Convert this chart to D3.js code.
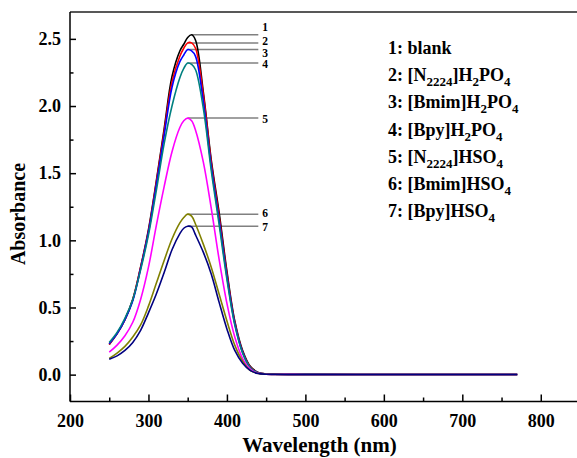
<!DOCTYPE html>
<html>
<head>
<meta charset="utf-8">
<script src="https://cdn.jsdelivr.net/npm/d3@7"></script>
<style>
  html, body { margin: 0; padding: 0; background: #fff; }
  svg { display: block; }
  text { font-family: "Liberation Serif", "Times New Roman", serif; font-weight: bold; fill: #000; }
</style>
</head>
<body>
<svg id="chart" width="577" height="458"></svg>
<script>
// UV-Vis absorbance spectra, sampled wavelengths (nm)
const wavelengths = [250, 260, 270, 280, 290, 300, 310, 320, 330, 340, 345, 350, 355, 360,
                     370, 380, 390, 400, 410, 420, 430, 440, 450, 460, 480, 500, 600, 700, 770];

// Absorbance of each sample at the wavelengths above
const absBlank      = [0.225, 0.305, 0.41, 0.56, 0.80, 1.08, 1.44, 1.83, 2.22, 2.41, 2.46, 2.51, 2.53, 2.49,
                       2.10, 1.60, 1.21, 0.77, 0.40, 0.18, 0.06, 0.016, 0.005, 0.003, 0.002, 0.002, 0.001, 0.001, 0.001];
const absN2224H2PO4 = [0.225, 0.305, 0.41, 0.56, 0.80, 1.07, 1.43, 1.81, 2.18, 2.37, 2.43, 2.47, 2.47, 2.43,
                       2.08, 1.58, 1.18, 0.75, 0.39, 0.17, 0.055, 0.014, 0.005, 0.003, 0.002, 0.002, 0.001, 0.001, 0.001];
const absBmimH2PO4  = [0.23, 0.305, 0.41, 0.55, 0.79, 1.06, 1.41, 1.78, 2.14, 2.33, 2.38, 2.42, 2.41, 2.37,
                       2.03, 1.55, 1.15, 0.73, 0.38, 0.165, 0.05, 0.013, 0.005, 0.003, 0.002, 0.002, 0.001, 0.001, 0.001];
const absBpyH2PO4   = [0.24, 0.315, 0.42, 0.56, 0.78, 1.04, 1.37, 1.72, 2.00, 2.21, 2.28, 2.32, 2.31, 2.27,
                       1.98, 1.52, 1.12, 0.71, 0.37, 0.16, 0.05, 0.013, 0.005, 0.003, 0.002, 0.002, 0.001, 0.001, 0.001];
const absN2224HSO4  = [0.168, 0.22, 0.29, 0.39, 0.56, 0.80, 1.11, 1.40, 1.66, 1.84, 1.89, 1.91, 1.89, 1.82,
                       1.58, 1.24, 0.86, 0.53, 0.28, 0.12, 0.04, 0.01, 0.004, 0.002, 0.002, 0.001, 0.001, 0.001, 0.001];
const absBmimHSO4   = [0.12, 0.16, 0.21, 0.28, 0.37, 0.51, 0.68, 0.85, 1.01, 1.13, 1.17, 1.195, 1.18, 1.12,
                       0.97, 0.80, 0.60, 0.40, 0.22, 0.10, 0.03, 0.008, 0.003, 0.002, 0.001, 0.001, 0.001, 0.001, 0.001];
const absBpyHSO4    = [0.115, 0.14, 0.18, 0.24, 0.33, 0.46, 0.60, 0.76, 0.93, 1.05, 1.09, 1.105, 1.10, 1.04,
                       0.91, 0.75, 0.54, 0.34, 0.18, 0.085, 0.03, 0.008, 0.003, 0.002, 0.001, 0.001, 0.001, 0.001, 0.001];

const curveLabels  = ["1", "2", "3", "4", "5", "6", "7"];
const legendLabels = ["1: blank",
                      "2: [N_{2224}]H_{2}PO_{4}",
                      "3: [Bmim]H_{2}PO_{4}",
                      "4: [Bpy]H_{2}PO_{4}",
                      "5: [N_{2224}]HSO_{4}",
                      "6: [Bmim]HSO_{4}",
                      "7: [Bpy]HSO_{4}"];
const xTickValues = [200, 300, 400, 500, 600, 700, 800];
const yTickValues = [0.0, 0.5, 1.0, 1.5, 2.0, 2.5];
const xAxisTitle = "Wavelength (nm)";
const yAxisTitle = "Absorbance";

// ---- layout & styling ----
const seriesValues = [absBlank, absN2224H2PO4, absBmimH2PO4, absBpyH2PO4, absN2224HSO4, absBmimHSO4, absBpyHSO4];
const seriesColors = ["#000000", "#ff0000", "#0000ff", "#008080", "#ff00ff", "#808000", "#000080"];
const labelShift   = [-8, -2, 3.5, 1, 1, -1, 1];   // vertical nudges so the numbers don't collide
const leaderEndNm  = 440;

const plot = { left: 70, top: 12, right: 580, bottom: 401.5 };
const svg = d3.select("#chart");

const x = d3.scaleLinear().domain([200, 850]).range([plot.left, plot.right]);
const y = d3.scaleLinear().domain([-0.2, 2.7]).range([plot.bottom, plot.top]);

// frame: top and right edges
svg.append("path")
  .attr("d", `M${plot.left},${plot.top}H${plot.right}V${plot.bottom}`)
  .attr("fill", "none").attr("stroke", "#222").attr("stroke-width", 1.5);

// axes with inward ticks
const fmtY = d3.format(".1f");
const xAxis = svg.append("g").attr("transform", `translate(0,${plot.bottom})`)
  .call(d3.axisBottom(x).tickValues(xTickValues).tickSizeInner(-7).tickSizeOuter(0).tickPadding(13).tickFormat(d3.format("d")));
const xMinor = svg.append("g").attr("transform", `translate(0,${plot.bottom})`)
  .call(d3.axisBottom(x).tickValues(d3.range(250, 850, 100)).tickSizeInner(-4).tickSizeOuter(0).tickFormat(""));
const yAxis = svg.append("g").attr("transform", `translate(${plot.left},0)`)
  .call(d3.axisLeft(y).tickValues(yTickValues).tickSizeInner(-6).tickSizeOuter(0).tickPadding(9).tickFormat(fmtY));
const yMinor = svg.append("g").attr("transform", `translate(${plot.left},0)`)
  .call(d3.axisLeft(y).tickValues([0.25, 0.75, 1.25, 1.75, 2.25]).tickSizeInner(-3.5).tickSizeOuter(0).tickFormat(""));

[xAxis, xMinor, yAxis, yMinor].forEach(g => {
  g.selectAll("path.domain").attr("stroke", "#000").attr("stroke-width", 1.5);
  g.selectAll(".tick line").attr("stroke", "#000").attr("stroke-width", 1.5);
  g.selectAll(".tick text").attr("font-size", 18).attr("font-family", "'Liberation Serif','Times New Roman',serif")
    .attr("font-weight", "bold").attr("fill", "#000");
});
// extend the axis lines across the whole frame
xAxis.select("path.domain").attr("d", `M${plot.left},0H${plot.right}`);
yAxis.select("path.domain").attr("d", `M0,${plot.top}V${plot.bottom}`);
xMinor.select("path.domain").remove();
yMinor.select("path.domain").remove();

// axis titles
svg.append("text").attr("x", (plot.left + 577) / 2 - 4).attr("y", 452)
  .attr("text-anchor", "middle").attr("font-size", 21).text(xAxisTitle);
svg.append("text").attr("transform", "translate(25,214) rotate(-90)")
  .attr("text-anchor", "middle").attr("font-size", 20).text(yAxisTitle);

// leader lines from each peak to its number
const peaks = seriesValues.map(vals => {
  const i = d3.maxIndex(vals);
  return { wl: wavelengths[i], v: vals[i] };
});
const gLeaders = svg.append("g");
peaks.forEach((p, k) => {
  gLeaders.append("line")
    .attr("x1", x(p.wl)).attr("x2", x(leaderEndNm))
    .attr("y1", y(p.v)).attr("y2", y(p.v))
    .attr("stroke", "#808080").attr("stroke-width", 1.5);
  svg.append("text")
    .attr("x", x(leaderEndNm) + 4).attr("y", y(p.v) + labelShift[k])
    .attr("dominant-baseline", "central").attr("font-size", 11.5)
    .text(curveLabels[k]);
});

// spectra
const line = d3.line()
  .x(d => x(d[0])).y(d => y(d[1]))
  .curve(d3.curveCatmullRom.alpha(0.5));
seriesValues.forEach((vals, k) => {
  svg.append("path")
    .datum(wavelengths.map((w, i) => [w, vals[i]]))
    .attr("d", line)
    .attr("fill", "none")
    .attr("stroke", seriesColors[k])
    .attr("stroke-width", 1.6)
    .attr("stroke-linejoin", "round");
});

// legend with chemical subscripts
const gLegend = svg.append("g");
legendLabels.forEach((lab, k) => {
  const t = gLegend.append("text").attr("x", 388).attr("y", 54 + k * 27.2).attr("font-size", 18);
  const parts = lab.split(/(_\{[^}]*\})/).filter(s => s.length);
  let shifted = false;
  parts.forEach(part => {
    const isSub = part.startsWith("_{");
    const s = t.append("tspan").text(isSub ? part.slice(2, -1) : part);
    if (isSub) {
      s.attr("font-size", 13).attr("dy", shifted ? 0 : 5);
      shifted = true;
    } else if (shifted) {
      s.attr("dy", -5);
      shifted = false;
    }
  });
});
</script>
</body>
</html>
